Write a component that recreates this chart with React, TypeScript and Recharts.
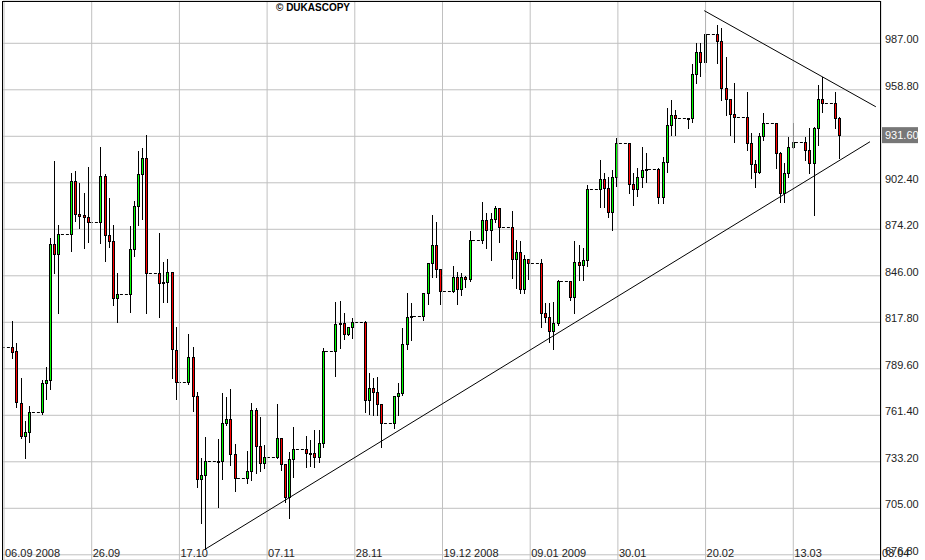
import { Bar, CartesianGrid, ComposedChart, ReferenceLine, XAxis, YAxis } from 'recharts'

// daily gold candles, 08.09.2008 - 24.03.2009
const dates = [
  '08.09.08', '09.09.08', '10.09.08', '11.09.08', '12.09.08',
  '15.09.08', '16.09.08', '17.09.08', '18.09.08', '19.09.08',
  '22.09.08', '23.09.08', '24.09.08', '25.09.08', '26.09.08',
  '29.09.08', '30.09.08', '01.10.08', '02.10.08', '03.10.08',
  '06.10.08', '07.10.08', '08.10.08', '09.10.08', '10.10.08',
  '13.10.08', '14.10.08', '15.10.08', '16.10.08', '17.10.08',
  '20.10.08', '21.10.08', '22.10.08', '23.10.08', '24.10.08',
  '27.10.08', '28.10.08', '29.10.08', '30.10.08', '31.10.08',
  '03.11.08', '04.11.08', '05.11.08', '06.11.08', '07.11.08',
  '10.11.08', '11.11.08', '12.11.08', '13.11.08', '14.11.08',
  '17.11.08', '18.11.08', '19.11.08', '20.11.08', '21.11.08',
  '24.11.08', '25.11.08', '26.11.08', '27.11.08', '28.11.08',
  '01.12.08', '02.12.08', '03.12.08', '04.12.08', '05.12.08',
  '08.12.08', '09.12.08', '10.12.08', '11.12.08', '12.12.08',
  '15.12.08', '16.12.08', '17.12.08', '18.12.08', '19.12.08',
  '22.12.08', '23.12.08', '24.12.08', '25.12.08', '26.12.08',
  '29.12.08', '30.12.08', '31.12.08', '01.01.09', '02.01.09',
  '05.01.09', '06.01.09', '07.01.09', '08.01.09', '09.01.09',
  '12.01.09', '13.01.09', '14.01.09', '15.01.09', '16.01.09',
  '19.01.09', '20.01.09', '21.01.09', '22.01.09', '23.01.09',
  '26.01.09', '27.01.09', '28.01.09', '29.01.09', '30.01.09',
  '02.02.09', '03.02.09', '04.02.09', '05.02.09', '06.02.09',
  '09.02.09', '10.02.09', '11.02.09', '12.02.09', '13.02.09',
  '16.02.09', '17.02.09', '18.02.09', '19.02.09', '20.02.09',
  '23.02.09', '24.02.09', '25.02.09', '26.02.09', '27.02.09',
  '02.03.09', '03.03.09', '04.03.09', '05.03.09', '06.03.09',
  '09.03.09', '10.03.09', '11.03.09', '12.03.09', '13.03.09',
  '16.03.09', '17.03.09', '18.03.09', '19.03.09', '20.03.09',
  '23.03.09', '24.03.09',
]

const open = [
  802.6, 800.4, 768.7, 748.7, 751.1, 763.2, 780.8, 782.6, 865.3, 859.0,
  871.2, 903.5, 883.3, 882.7, 881.7, 878.4, 906.5, 870.6, 866.9, 832.3,
  835.0, 862.1, 888.1, 907.7, 917.3, 847.5, 841.4, 842.0, 848.1, 800.9,
  781.4, 796.6, 772.9, 722.6, 725.0, 733.5, 733.5, 756.5, 759.3, 737.7,
  723.2, 727.6, 764.4, 743.0, 732.3, 735.9, 747.4, 731.7, 711.7, 734.7,
  740.8, 738.3, 738.3, 735.9, 744.6, 800.4, 816.6, 817.2, 810.5, 814.8,
  818.0, 770.5, 778.0, 775.3, 768.1, 756.5, 772.9, 774.7, 804.5, 820.8,
  821.4, 835.6, 853.6, 864.5, 849.9, 836.6, 845.4, 837.8, 845.4, 843.9,
  867.5, 879.7, 873.6, 880.3, 886.9, 875.4, 856.4, 860.4, 838.2, 856.0,
  853.6, 823.3, 820.8, 812.7, 817.2, 842.8, 833.3, 854.2, 852.4, 855.6,
  898.5, 904.5, 899.1, 884.9, 905.7, 926.4, 901.5, 898.5, 905.7, 910.0,
  911.0, 894.0, 915.2, 937.3, 943.3, 941.5, 941.5, 968.2, 981.5, 975.8,
  992.5, 988.2, 960.1, 953.0, 943.9, 942.1, 926.4, 913.6, 908.8, 930.6,
  938.5, 920.3, 896.0, 908.2, 924.3, 927.0, 922.3, 914.2, 935.4, 953.0,
  950.6, 941.5,
]

const high = [
  818.6, 805.2, 784.2, 757.9, 767.0, 782.8, 790.5, 868.7, 915.6, 876.8,
  908.5, 909.6, 902.5, 896.4, 912.2, 924.3, 907.7, 893.2, 876.8, 847.5,
  876.2, 891.4, 921.7, 923.5, 931.4, 871.8, 854.2, 856.0, 848.6, 815.1,
  810.7, 803.0, 775.3, 735.5, 748.4, 746.8, 775.1, 772.7, 777.3, 743.8,
  739.9, 768.7, 766.0, 760.5, 743.4, 768.2, 747.6, 732.0, 739.3, 754.1,
  749.0, 746.4, 752.5, 752.5, 802.0, 830.3, 830.9, 823.3, 815.2, 820.6,
  818.3, 786.9, 783.8, 784.8, 768.3, 773.2, 780.8, 814.2, 835.4, 829.3,
  835.8, 853.8, 882.7, 878.4, 850.2, 851.9, 848.5, 847.5, 845.6, 873.2,
  890.8, 883.9, 884.3, 888.3, 887.2, 885.3, 867.7, 867.3, 858.6, 856.2,
  856.2, 829.3, 829.3, 830.3, 843.5, 843.0, 867.1, 864.7, 862.7, 901.1,
  916.2, 908.2, 906.1, 910.2, 929.7, 926.6, 908.2, 911.2, 924.3, 920.3,
  911.3, 918.2, 947.9, 952.6, 946.5, 941.6, 974.3, 987.0, 987.0, 1006.8,
  998.1, 996.1, 978.9, 953.4, 962.7, 957.6, 932.4, 916.2, 932.4, 944.5,
  938.7, 921.3, 914.2, 930.4, 938.5, 930.4, 935.4, 936.4, 961.7, 966.7,
  957.6, 942.5,
]

const low = [
  796.3, 766.2, 747.8, 735.7, 745.4, 762.2, 771.5, 777.2, 847.7, 823.3,
  861.2, 879.4, 875.2, 862.7, 866.7, 866.1, 855.2, 863.3, 828.3, 818.2,
  824.2, 858.2, 876.8, 880.6, 823.3, 820.8, 830.3, 830.3, 783.8, 771.1,
  780.2, 764.2, 718.1, 696.3, 680.1, 706.0, 722.8, 755.5, 731.3, 715.7,
  720.5, 722.2, 726.2, 727.8, 729.2, 735.3, 728.2, 709.0, 698.9, 724.2,
  730.2, 730.8, 730.2, 733.3, 742.4, 785.4, 802.0, 807.7, 810.0, 808.5,
  763.2, 762.0, 761.6, 761.6, 742.0, 753.9, 761.6, 774.0, 801.4, 807.1,
  819.2, 828.9, 845.4, 845.4, 828.9, 836.4, 828.9, 834.3, 839.4, 843.0,
  865.7, 862.7, 855.6, 878.5, 866.7, 844.5, 838.4, 835.4, 835.7, 843.9,
  815.1, 818.0, 806.0, 801.6, 816.0, 831.3, 823.3, 843.4, 843.4, 851.9,
  887.9, 887.9, 881.8, 873.8, 900.6, 896.4, 888.9, 894.6, 900.0, 903.1,
  890.0, 890.0, 909.1, 931.4, 931.4, 935.5, 939.5, 962.7, 967.2, 969.8,
  974.9, 952.6, 943.5, 931.4, 927.0, 922.3, 905.1, 899.7, 908.2, 928.4,
  911.2, 890.9, 890.9, 906.1, 923.3, 916.2, 908.2, 882.9, 925.3, 945.5,
  935.8, 917.6,
]

const close = [
  800.0, 769.3, 748.7, 751.3, 763.2, 780.8, 782.6, 865.3, 859.0, 871.2,
  903.5, 883.3, 882.3, 881.5, 878.4, 906.5, 870.6, 866.9, 832.3, 835.0,
  862.1, 888.1, 907.7, 917.3, 847.5, 841.4, 842.0, 848.1, 801.4, 781.4,
  796.6, 772.9, 722.6, 725.0, 733.5, 733.8, 756.5, 759.3, 737.7, 723.2,
  727.6, 764.4, 743.0, 732.3, 735.9, 747.4, 731.7, 711.7, 734.7, 740.8,
  738.3, 738.8, 735.9, 744.6, 800.4, 816.6, 817.2, 810.5, 814.8, 818.0,
  770.5, 778.0, 775.5, 768.1, 756.5, 772.9, 774.7, 804.5, 820.8, 821.4,
  835.6, 853.6, 864.5, 849.9, 836.6, 845.4, 837.8, 845.4, 843.9, 867.5,
  879.7, 873.6, 880.3, 886.9, 875.4, 856.4, 860.4, 838.2, 856.0, 853.9,
  823.3, 820.8, 812.7, 817.2, 842.8, 833.3, 854.2, 852.4, 855.6, 898.5,
  904.5, 899.1, 884.9, 905.7, 926.4, 901.5, 898.5, 905.7, 910.0, 911.0,
  894.0, 915.2, 937.3, 943.3, 941.5, 941.3, 968.2, 981.5, 975.8, 992.5,
  988.2, 960.1, 953.0, 943.9, 942.1, 926.4, 913.6, 908.8, 930.6, 938.5,
  920.3, 896.0, 908.2, 924.3, 927.0, 922.3, 914.2, 935.4, 953.0, 950.6,
  941.5, 931.6,
]

const xTickLabels = [
  '06.09 2008', '26.09', '17.10', '07.11', '28.11', '19.12 2008',
  '09.01 2009', '30.01', '20.02', '13.03', '03.04',
]
const yTicks = [676.8, 705, 733.2, 761.4, 789.6, 817.8, 846, 874.2, 902.4, 930.6, 958.8, 987]
const lastPrice = 931.6

// trend lines: [days since 08.09.2008, price]
const supportLine = [[45.9, 680.1], [204.4, 927.3]]
const resistanceLine = [[164.9, 1006.8], [205.8, 948.5]]

// layout
const W = 925
const H = 560
const LEFT = 3
const AXIS_W = 45
const PLOT_W = W - LEFT - AXIS_W
const X_DOMAIN: [number, number] = [-2.22, 206.79]
const Y_DOMAIN: [number, number] = [673.64, 1012.65]
const PX_PER_DAY = PLOT_W / (X_DOMAIN[1] - X_DOMAIN[0])
const GRID_START = -1.98
const GRID_STEP = 20.9 // three weeks

const FONT = '"Liberation Sans", Arial, sans-serif'
const UP = '#00ff00'
const DOWN = '#ff0000'

const dayOf = (s: string) => {
  const [dd, mm, yy] = s.split('.').map(Number)
  return (Date.UTC(2000 + yy, mm - 1, dd) - Date.UTC(2008, 8, 8)) / 86400000
}

const data = dates.map((s, i) => {
  const d = dayOf(s)
  const prev = i > 0 ? dayOf(dates[i - 1]) : d - 3
  return {
    d,
    gap: d - prev,
    open: open[i],
    high: high[i],
    low: low[i],
    close: close[i],
    range: [low[i], high[i]],
  }
})

const xTicks = xTickLabels.map((_, i) => GRID_START + i * GRID_STEP)

function Candle(props: any) {
  const { x, y, width, height, payload } = props
  const { open: o, close: c, high: h, low: l, gap } = payload
  const cx = Math.floor(x + width / 2) + 0.5
  const toY = (v: number) => y + ((h - v) / (h - l)) * height
  const yo = toY(o)
  const yc = toY(c)
  const top = Math.round(Math.min(yo, yc)) + 0.5
  const bottom = Math.max(Math.round(Math.max(yo, yc)) + 0.5, top + 1)
  const dashY = Math.round(yo) + 0.5
  return (
    <g>
      {gap > 1 && (
        <line
          x1={cx - gap * PX_PER_DAY + 2}
          x2={cx - 2}
          y1={dashY}
          y2={dashY}
          stroke="#000"
          strokeDasharray="3 2"
        />
      )}
      <line x1={cx} x2={cx} y1={Math.round(y)} y2={Math.round(y + height) + 1} stroke="#000" />
      <rect
        x={cx - 1}
        y={top}
        width={2}
        height={bottom - top}
        fill={c >= o ? UP : DOWN}
        stroke="#000"
      />
    </g>
  )
}

const YTick = ({ x, y, payload }: any) => {
  // the current price tag covers the grid label next to it
  if (Math.abs(payload.value - lastPrice) < 5) return null
  return (
    <text x={x} y={y} fontFamily={FONT} fontSize={11} fill="#222">
      {payload.value.toFixed(2)}
    </text>
  )
}

export default function App() {
  return (
    <div style={{ position: 'absolute', left: 0, top: 0, width: W, height: H, overflow: 'hidden', background: '#fff' }}>
      <ComposedChart
        width={W}
        height={H}
        data={data}
        margin={{ top: 1, right: 0, bottom: 0, left: LEFT }}
      >
        <CartesianGrid vertical={false} stroke="#c0c0c0" />
        <XAxis type="number" dataKey="d" domain={X_DOMAIN} ticks={xTicks} allowDataOverflow hide />
        <YAxis
          orientation="right"
          type="number"
          domain={Y_DOMAIN}
          ticks={yTicks}
          interval={0}
          width={AXIS_W}
          axisLine={false}
          tickLine={false}
          tickSize={0}
          tickMargin={5}
          allowDataOverflow
          tick={<YTick />}
        />
        {xTicks.map((t, i) => (
          <ReferenceLine
            key={t}
            x={t}
            stroke="#c0c0c0"
            ifOverflow="visible"
            label={{
              content: (p: any) => (
                <text
                  x={p.viewBox.x + 1}
                  y={p.viewBox.y + p.viewBox.height - 3.5}
                  fontFamily={FONT}
                  fontSize={11}
                  fill="#222"
                >
                  {xTickLabels[i]}
                </text>
              ),
            }}
          />
        ))}
        <Bar dataKey="range" barSize={3} shape={(p: any) => <Candle {...p} />} isAnimationActive={false} />
        <ReferenceLine
          segment={supportLine.map(([d, v]) => ({ x: d, y: v }))}
          stroke="#000"
          ifOverflow="visible"
        />
        <ReferenceLine
          segment={resistanceLine.map(([d, v]) => ({ x: d, y: v }))}
          stroke="#000"
          ifOverflow="visible"
        />
        <ReferenceLine
          y={lastPrice}
          stroke="none"
          ifOverflow="visible"
          label={{
            content: (p: any) => {
              const vb = p.viewBox
              const right = vb.x + vb.width
              return (
                <g>
                  <rect x={right + 2} y={vb.y - 7.5} width={36} height={16} fill="#777" />
                  <text x={right + 5} y={vb.y + 4} fontFamily={FONT} fontSize={11} fill="#fff">
                    {lastPrice.toFixed(2)}
                  </text>
                </g>
              )
            },
          }}
        />
      </ComposedChart>
      <div
        style={{
          position: 'absolute',
          left: LEFT - 1,
          top: 1,
          width: PLOT_W,
          height: H - 1,
          borderLeft: '1px solid #000',
          borderTop: '1px solid #000',
          borderRight: '1px solid #000',
          pointerEvents: 'none',
        }}
      />
      <div
        style={{
          position: 'absolute',
          left: 276,
          top: 2,
          fontFamily: '"Liberation Sans", Arial, sans-serif',
          fontWeight: 'bold',
          fontSize: 10,
          color: '#000',
        }}
      >
        © DUKASCOPY
      </div>
    </div>
  )
}
